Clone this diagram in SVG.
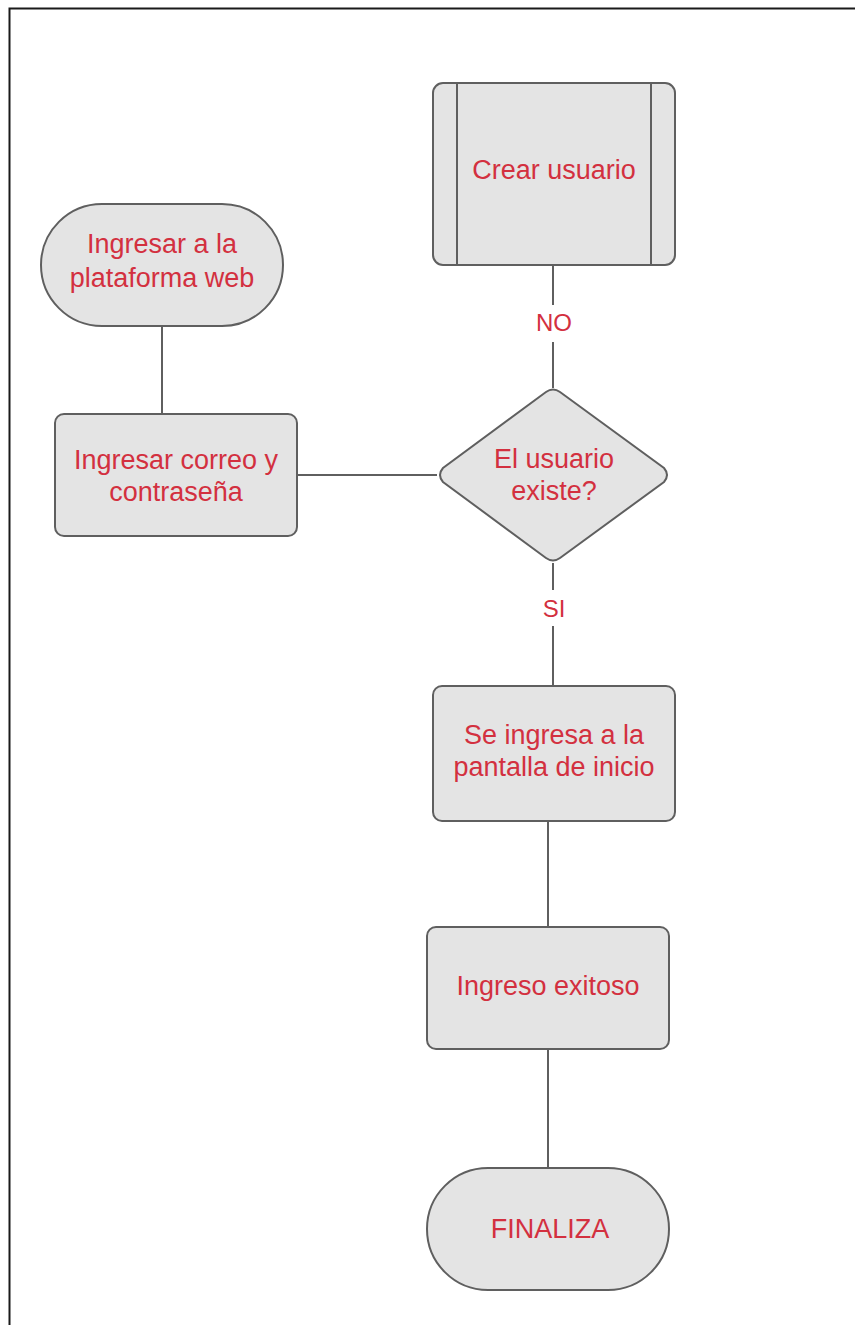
<svg xmlns="http://www.w3.org/2000/svg" width="855" height="1325" viewBox="0 0 855 1325">
  <style>
    .node { fill: #e4e4e4; stroke: #5f5f5f; stroke-width: 2; }
    .edge { fill: none; stroke: #5f5f5f; stroke-width: 2; }
    .txt { font-family: "Liberation Sans", Arial, sans-serif; font-size: 27px; fill: #d3303f; text-anchor: middle; }
    .lbl { font-family: "Liberation Sans", Arial, sans-serif; font-size: 24px; fill: #d3303f; text-anchor: middle; }
  </style>
  <rect width="855" height="1325" fill="#ffffff"/>
  <!-- page frame -->
  <path d="M9.5,1325 V8.5 H855" fill="none" stroke="#1a1a1a" stroke-width="2"/>

  <g id="connectors">
    <line class="edge" x1="162" y1="326" x2="162" y2="414"/>
    <line class="edge" x1="297" y1="475" x2="437" y2="475"/>
    <line class="edge" x1="553" y1="265" x2="553" y2="305"/>
    <line class="edge" x1="553" y1="342" x2="553" y2="388"/>
    <text class="lbl" x="554" y="331">NO</text>
    <line class="edge" x1="553" y1="563" x2="553" y2="590"/>
    <line class="edge" x1="553" y1="626" x2="553" y2="686"/>
    <text class="lbl" x="554" y="617">SI</text>
    <line class="edge" x1="548" y1="821" x2="548" y2="927"/>
    <line class="edge" x1="548" y1="1049" x2="548" y2="1168"/>
  </g>

  <g id="crear-usuario">
    <rect class="node" x="433" y="83" width="242" height="182" rx="10"/>
    <line class="edge" x1="457" y1="84" x2="457" y2="264"/>
    <line class="edge" x1="651" y1="84" x2="651" y2="264"/>
    <text class="txt" x="554" y="179">Crear usuario</text>
  </g>

  <g id="ingresar-plataforma">
    <rect class="node" x="41" y="204" width="242" height="122" rx="61"/>
    <text class="txt" x="162" y="253">Ingresar a la</text>
    <text class="txt" x="162" y="287">plataforma web</text>
  </g>

  <g id="ingresar-correo">
    <rect class="node" x="55" y="414" width="242" height="122" rx="9"/>
    <text class="txt" x="176" y="469">Ingresar correo y</text>
    <text class="txt" x="176" y="501">contraseña</text>
  </g>

  <g id="usuario-existe">
    <path class="node" d="M546,392 Q553,387 560,392 L664,468 Q670,475 664,482 L560,558 Q553,563 546,558 L443,482 Q437,475 443,468 Z"/>
    <text class="txt" x="554" y="468">El usuario</text>
    <text class="txt" x="554" y="500">existe?</text>
  </g>

  <g id="pantalla-inicio">
    <rect class="node" x="433" y="686" width="242" height="135" rx="9"/>
    <text class="txt" x="554" y="744">Se ingresa a la</text>
    <text class="txt" x="554" y="776">pantalla de inicio</text>
  </g>

  <g id="ingreso-exitoso">
    <rect class="node" x="427" y="927" width="242" height="122" rx="9"/>
    <text class="txt" x="548" y="995">Ingreso exitoso</text>
  </g>

  <g id="finaliza">
    <rect class="node" x="427" y="1168" width="242" height="122" rx="61"/>
    <text class="txt" x="550" y="1238">FINALIZA</text>
  </g>
</svg>
